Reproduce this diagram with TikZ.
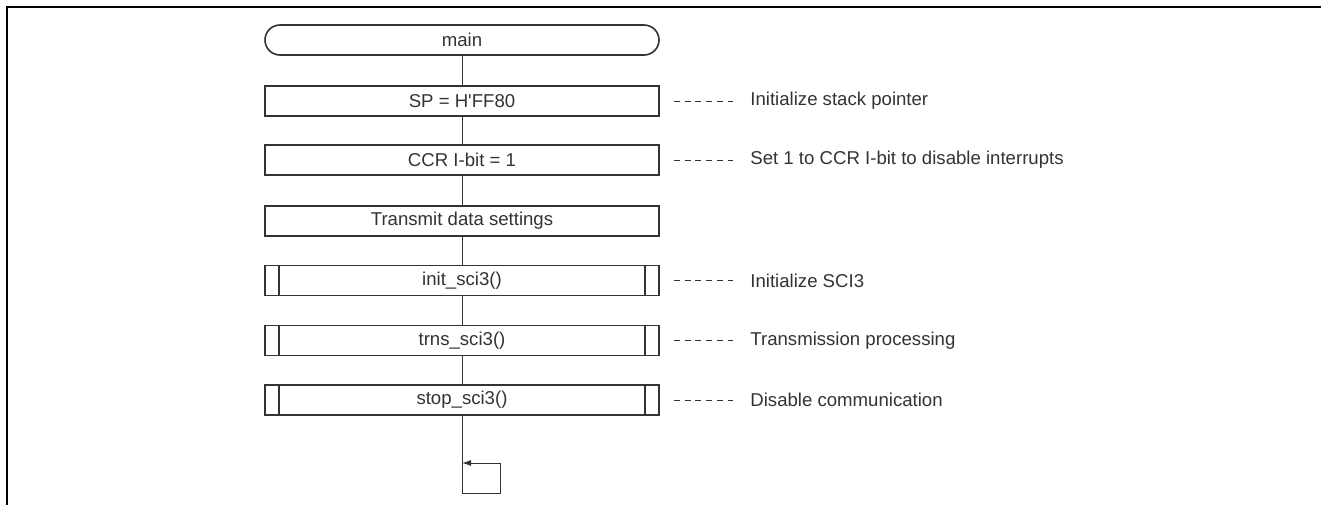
\documentclass[tikz,border=0pt]{standalone}
\usepackage{fontspec}
\setmainfont{Liberation Sans}
\usetikzlibrary{arrows.meta}
\definecolor{linegray}{gray}{0.2}
\tikzset{flowbox/.style = {draw=linegray,line width=0.8pt,fill=white,minimum width=197pt,minimum height=15pt,inner sep=0pt,text=linegray,font=\fontsize{9.3}{11}\selectfont}}
\tikzset{termbox/.style = {flowbox,rounded corners=7.5pt}}
\tikzset{notetext/.style = {anchor=west,inner sep=0pt,text=linegray,font=\fontsize{9.3}{11}\selectfont}}
\tikzset{flowline/.style = {draw=linegray,line width=0.5pt}}
\tikzset{notedash/.style = {draw=linegray,line width=0.5pt,dash pattern=on 3pt off 2.4pt}}
\NewDocumentCommand{\subrbars}{m}{%
\draw[flowline,line width=0.8pt] ([xshift=7.5pt]#1.north west) -- ([xshift=7.5pt]#1.south west)
 ([xshift=-7.5pt]#1.north east) -- ([xshift=-7.5pt]#1.south east);
}
\NewDocumentCommand{\fnote}{m m m}{%
\node[notetext] (#2) at (750,0 |- #1) {#3};
\draw[notedash] ([xshift=7pt]#1.east) -- ([xshift=-8.5pt]#2.west);
}
\begin{document}
\begin{tikzpicture}[x=0.5pt,y=-0.5pt]
\useasboundingbox (0,0) rectangle (1321,505);
\draw[line width=1pt] (7,505) -- (7,7) -- (1321,7);

\node[termbox] (main) at (462,40) {main};
\node[flowbox] (sp) at (462,101) {SP = H\textquotesingle FF80};
\node[flowbox] (ccr) at (462,160) {CCR I-bit = 1};
\node[flowbox] (txd) at (462,221) {Transmit data settings};
\node[flowbox] (init) at (462,280.5) {init\_sci3()};
\node[flowbox] (trns) at (462,340.5) {trns\_sci3()};
\node[flowbox] (stop) at (462,400) {stop\_sci3()};
\subrbars{init}
\subrbars{trns}
\subrbars{stop}

\foreach \a/\b in {main/sp,sp/ccr,ccr/txd,txd/init,init/trns,trns/stop}
 \draw[flowline] (\a.south) -- (\b.north);

\coordinate (loopbot) at (462,493);
\coordinate (loopright) at (500,463);
\draw[flowline,-{Latex[length=4.5pt,width=3pt]}] (stop.south) -- (loopbot) -| (loopright) -- (loopright -| stop.south);

\fnote{sp}{spnote}{Initialize stack pointer}
\fnote{ccr}{ccrnote}{Set 1 to CCR I-bit to disable interrupts}
\fnote{init}{initnote}{Initialize SCI3}
\fnote{trns}{trnsnote}{Transmission processing}
\fnote{stop}{stopnote}{Disable communication}
\end{tikzpicture}
\end{document}
